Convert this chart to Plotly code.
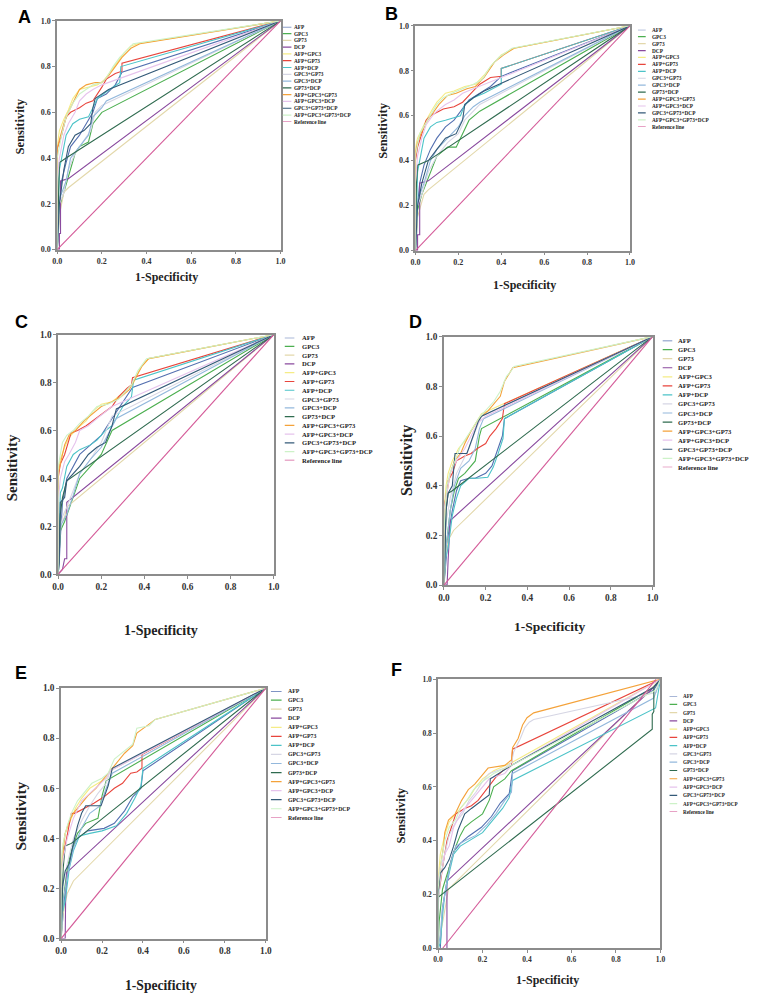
import plotly.graph_objects as go

# ---------------- data ----------------
NAMES = ["AFP", "GPC3", "GP73", "DCP", "AFP+GPC3", "AFP+GP73", "AFP+DCP",
         "GPC3+GP73", "GPC3+DCP", "GP73+DCP", "AFP+GPC3+GP73", "AFP+GPC3+DCP",
         "GPC3+GP73+DCP", "AFP+GPC3+GP73+DCP", "Reference line"]
COLORS = ["#5470b0", "#4caf50", "#e3d8ab", "#8a4a9e", "#f5ec86", "#e8453c", "#4cc3c8",
          "#d6d6e4", "#93b8dc", "#2f6b4f", "#f4a23a", "#e6c3ec", "#345a78", "#cdf2c8", "#d45a98"]
TICKS = [0.0, 0.2, 0.4, 0.6, 0.8, 1.0]
TICK_LABELS = ["0.0", "0.2", "0.4", "0.6", "0.8", "1.0"]
AXIS_TITLE_X = "1-Specificity"
AXIS_TITLE_Y = "Sensitivity"
REF = ([0, 1], [0, 1])

A = {
    "AFP": ([0, 0.005, 0.01, 0.02, 0.04, 0.06, 0.1, 0.13, 0.16, 0.18, 0.22, 0.26, 0.29, 1],
            [0, 0.05, 0.2, 0.3, 0.38, 0.45, 0.5, 0.55, 0.6, 0.66, 0.68, 0.72, 0.775, 1]),
    "GPC3": ([0, 0.005, 0.01, 0.03, 0.05, 0.08, 0.1, 0.14, 0.16, 0.2, 1],
             [0, 0.1, 0.18, 0.25, 0.32, 0.42, 0.45, 0.47, 0.55, 0.6, 1]),
    "GP73": ([0, 0.005, 0.01, 0.03, 0.05, 1], [0, 0.1, 0.15, 0.25, 0.27, 1]),
    "DCP": ([0, 0.01, 0.01, 0.015, 0.015, 0.05, 1], [0, 0, 0.07, 0.07, 0.3, 0.31, 1]),
    "AFP+GPC3": ([0, 0, 0.01, 0.03, 0.05, 0.07, 0.1, 0.14, 0.18, 0.21, 0.24, 0.27, 0.3, 0.33, 0.36, 1],
                 [0, 0.45, 0.52, 0.57, 0.61, 0.66, 0.7, 0.71, 0.72, 0.74, 0.78, 0.82, 0.86, 0.89, 0.9, 1]),
    "AFP+GP73": ([0, 0, 0.02, 0.04, 0.06, 0.1, 0.13, 0.16, 0.2, 0.22, 0.26, 0.29, 0.29, 1],
                 [0, 0.44, 0.5, 0.58, 0.6, 0.62, 0.64, 0.65, 0.71, 0.745, 0.77, 0.78, 0.815, 1]),
    "AFP+DCP": ([0, 0.005, 0.01, 0.02, 0.04, 0.07, 0.1, 0.14, 0.16, 0.18, 0.22, 0.25, 0.28, 0.285, 1],
                [0, 0.2, 0.35, 0.4, 0.5, 0.55, 0.57, 0.58, 0.62, 0.66, 0.69, 0.71, 0.73, 0.8, 1]),
    "GPC3+GP73": ([0, 0.005, 0.01, 0.03, 0.05, 0.08, 0.12, 0.15, 0.17, 0.2, 1],
                  [0, 0.1, 0.2, 0.25, 0.35, 0.42, 0.48, 0.52, 0.6, 0.63, 1]),
    "GPC3+DCP": ([0, 0.005, 0.01, 0.04, 0.06, 0.1, 0.14, 0.16, 0.2, 0.22, 1],
                 [0, 0.1, 0.22, 0.3, 0.4, 0.45, 0.5, 0.58, 0.62, 0.65, 1]),
    "GP73+DCP": ([0, 0.005, 0.01, 0.04, 1], [0, 0.25, 0.38, 0.4, 1]),
    "AFP+GPC3+GP73": ([0, 0, 0.01, 0.03, 0.05, 0.08, 0.1, 0.13, 0.17, 0.2, 0.23, 0.26, 0.29, 0.33, 0.37, 1],
                      [0, 0.44, 0.48, 0.55, 0.6, 0.66, 0.7, 0.72, 0.73, 0.73, 0.76, 0.8, 0.84, 0.88, 0.9, 1]),
    "AFP+GPC3+DCP": ([0, 0, 0.01, 0.03, 0.05, 0.08, 0.1, 0.13, 0.16, 0.2, 1],
                     [0, 0.3, 0.4, 0.5, 0.55, 0.6, 0.65, 0.68, 0.7, 0.72, 1]),
    "GPC3+GP73+DCP": ([0, 0.005, 0.01, 0.03, 0.05, 0.08, 0.12, 0.15, 0.16, 0.17, 0.2, 0.23, 1],
                      [0, 0.1, 0.2, 0.35, 0.45, 0.5, 0.52, 0.55, 0.62, 0.66, 0.68, 0.7, 1]),
    "AFP+GPC3+GP73+DCP": ([0, 0, 0.01, 0.02, 0.04, 0.07, 0.1, 0.13, 0.16, 0.2, 0.22, 0.25, 0.28, 0.31, 0.34, 1],
                          [0, 0.4, 0.45, 0.5, 0.58, 0.64, 0.68, 0.7, 0.72, 0.73, 0.75, 0.8, 0.84, 0.87, 0.9, 1]),
    "Reference line": REF,
}

B = {
    "AFP": ([0, 0.005, 0.01, 0.02, 0.04, 0.07, 0.1, 0.14, 0.18, 0.22, 0.25, 0.3, 0.35, 0.4, 1],
            [0, 0.05, 0.2, 0.3, 0.38, 0.45, 0.5, 0.55, 0.58, 0.63, 0.67, 0.7, 0.73, 0.775, 1]),
    "GPC3": ([0, 0.005, 0.01, 0.03, 0.06, 0.1, 0.15, 0.19, 0.22, 0.25, 0.3, 1],
             [0, 0.1, 0.18, 0.25, 0.32, 0.42, 0.46, 0.46, 0.52, 0.58, 0.62, 1]),
    "GP73": ([0, 0.005, 0.01, 0.04, 0.06, 1], [0, 0.1, 0.15, 0.25, 0.27, 1]),
    "DCP": ([0, 0.01, 0.01, 0.02, 0.02, 0.06, 1], [0, 0, 0.07, 0.07, 0.3, 0.31, 1]),
    "AFP+GPC3": ([0, 0, 0.01, 0.03, 0.05, 0.08, 0.1, 0.14, 0.18, 0.23, 0.28, 0.32, 0.36, 0.4, 0.46, 1],
                 [0, 0.46, 0.5, 0.54, 0.58, 0.63, 0.66, 0.7, 0.71, 0.73, 0.74, 0.78, 0.83, 0.87, 0.9, 1]),
    "AFP+GP73": ([0, 0, 0.01, 0.03, 0.05, 0.07, 0.1, 0.13, 0.18, 0.22, 0.26, 0.3, 0.35, 0.4, 0.4, 1],
                 [0, 0.4, 0.46, 0.52, 0.58, 0.6, 0.615, 0.63, 0.64, 0.66, 0.7, 0.74, 0.77, 0.775, 0.81, 1]),
    "AFP+DCP": ([0, 0.005, 0.01, 0.02, 0.04, 0.07, 0.1, 0.14, 0.18, 0.21, 0.23, 0.27, 0.32, 0.4, 0.4, 1],
                [0, 0.2, 0.35, 0.4, 0.5, 0.55, 0.57, 0.58, 0.59, 0.6, 0.65, 0.68, 0.7, 0.74, 0.81, 1]),
    "GPC3+GP73": ([0, 0.005, 0.01, 0.03, 0.06, 0.1, 0.15, 0.2, 0.23, 0.27, 0.3, 1],
                  [0, 0.1, 0.2, 0.25, 0.35, 0.42, 0.48, 0.52, 0.58, 0.62, 0.65, 1]),
    "GPC3+DCP": ([0, 0.005, 0.01, 0.04, 0.07, 0.1, 0.15, 0.2, 0.23, 0.27, 0.3, 1],
                 [0, 0.1, 0.22, 0.3, 0.4, 0.45, 0.5, 0.55, 0.6, 0.64, 0.66, 1]),
    "GP73+DCP": ([0, 0.005, 0.01, 0.06, 1], [0, 0.3, 0.38, 0.4, 1]),
    "AFP+GPC3+GP73": ([0, 0, 0.01, 0.03, 0.05, 0.08, 0.11, 0.15, 0.19, 0.24, 0.28, 0.32, 0.37, 0.41, 0.46, 1],
                      [0, 0.44, 0.48, 0.53, 0.57, 0.61, 0.65, 0.69, 0.7, 0.72, 0.73, 0.77, 0.84, 0.87, 0.9, 1]),
    "AFP+GPC3+DCP": ([0, 0, 0.01, 0.03, 0.05, 0.08, 0.1, 0.14, 0.18, 0.22, 0.27, 1],
                     [0, 0.3, 0.42, 0.5, 0.56, 0.6, 0.62, 0.65, 0.67, 0.7, 0.72, 1]),
    "GPC3+GP73+DCP": ([0, 0.005, 0.01, 0.03, 0.06, 0.1, 0.14, 0.19, 0.22, 0.23, 0.27, 0.32, 1],
                      [0, 0.1, 0.2, 0.3, 0.4, 0.45, 0.5, 0.52, 0.58, 0.65, 0.68, 0.71, 1]),
    "AFP+GPC3+GP73+DCP": ([0, 0, 0.01, 0.02, 0.05, 0.08, 0.1, 0.13, 0.17, 0.22, 0.27, 0.31, 0.35, 0.39, 0.45, 1],
                          [0, 0.42, 0.47, 0.52, 0.57, 0.62, 0.65, 0.68, 0.7, 0.72, 0.74, 0.76, 0.82, 0.86, 0.9, 1]),
    "Reference line": REF,
}

C = {
    "AFP": ([0, 0.005, 0.01, 0.02, 0.04, 0.07, 0.1, 0.15, 0.2, 0.25, 0.3, 0.345, 1],
            [0, 0.05, 0.15, 0.3, 0.4, 0.45, 0.5, 0.54, 0.58, 0.65, 0.72, 0.78, 1]),
    "GPC3": ([0, 0.005, 0.01, 0.03, 0.06, 0.1, 0.15, 0.2, 0.25, 1],
             [0, 0.1, 0.18, 0.22, 0.3, 0.4, 0.45, 0.5, 0.6, 1]),
    "GP73": ([0, 0, 0.01, 0.03, 0.04, 1], [0, 0.16, 0.2, 0.24, 0.28, 1]),
    "DCP": ([0, 0.02, 0.03, 0.04, 0.04, 1], [0, 0.02, 0.065, 0.065, 0.3, 1]),
    "AFP+GPC3": ([0, 0, 0.01, 0.03, 0.05, 0.09, 0.13, 0.16, 0.2, 0.25, 0.3, 0.33, 0.35, 0.38, 0.42, 1],
                 [0, 0.44, 0.48, 0.53, 0.57, 0.61, 0.64, 0.68, 0.71, 0.72, 0.757, 0.78, 0.8, 0.86, 0.9, 1]),
    "AFP+GP73": ([0, 0, 0.01, 0.03, 0.06, 0.09, 0.13, 0.16, 0.2, 0.25, 0.28, 0.32, 0.34, 0.345, 1],
                 [0, 0.4, 0.46, 0.5, 0.59, 0.6, 0.62, 0.64, 0.67, 0.7, 0.74, 0.777, 0.79, 0.82, 1]),
    "AFP+DCP": ([0, 0.005, 0.01, 0.02, 0.04, 0.07, 0.1, 0.15, 0.18, 0.22, 0.25, 0.3, 0.34, 0.35, 1],
                [0, 0.2, 0.34, 0.36, 0.45, 0.5, 0.52, 0.54, 0.56, 0.6, 0.62, 0.7, 0.74, 0.81, 1]),
    "GPC3+GP73": ([0, 0.005, 0.02, 0.04, 0.07, 0.1, 0.15, 0.2, 0.25, 1],
                  [0, 0.15, 0.24, 0.28, 0.35, 0.42, 0.48, 0.55, 0.66, 1]),
    "GPC3+DCP": ([0, 0.005, 0.01, 0.04, 0.07, 0.1, 0.15, 0.2, 0.24, 0.27, 1],
                 [0, 0.1, 0.2, 0.25, 0.33, 0.42, 0.48, 0.53, 0.6, 0.65, 1]),
    "GP73+DCP": ([0, 0.01, 0.02, 0.04, 1], [0, 0.25, 0.32, 0.39, 1]),
    "AFP+GPC3+GP73": ([0, 0, 0.01, 0.03, 0.05, 0.08, 0.12, 0.16, 0.2, 0.25, 0.29, 0.33, 0.36, 0.39, 0.42, 1],
                      [0, 0.42, 0.46, 0.54, 0.58, 0.6, 0.64, 0.67, 0.7, 0.72, 0.74, 0.77, 0.82, 0.87, 0.9, 1]),
    "AFP+GPC3+DCP": ([0, 0, 0.01, 0.03, 0.05, 0.08, 0.1, 0.14, 0.18, 0.22, 0.25, 1],
                     [0, 0.3, 0.4, 0.47, 0.5, 0.55, 0.6, 0.62, 0.65, 0.68, 0.7, 1]),
    "GPC3+GP73+DCP": ([0, 0.005, 0.01, 0.03, 0.04, 0.07, 0.1, 0.14, 0.18, 0.22, 0.25, 0.27, 1],
                      [0, 0.05, 0.3, 0.32, 0.39, 0.42, 0.45, 0.5, 0.53, 0.55, 0.62, 0.69, 1]),
    "AFP+GPC3+GP73+DCP": ([0, 0, 0.01, 0.02, 0.04, 0.07, 0.1, 0.14, 0.18, 0.23, 0.28, 0.31, 0.34, 0.37, 0.41, 1],
                          [0, 0.45, 0.5, 0.55, 0.58, 0.6, 0.63, 0.66, 0.7, 0.71, 0.73, 0.76, 0.79, 0.85, 0.9, 1]),
    "Reference line": REF,
}

D = {
    "AFP": ([0, 0.005, 0.02, 0.04, 0.06, 0.08, 0.12, 0.15, 0.2, 0.23, 0.26, 0.28, 0.29, 1],
            [0, 0.05, 0.2, 0.3, 0.38, 0.42, 0.43, 0.43, 0.45, 0.48, 0.55, 0.6, 0.67, 1]),
    "GPC3": ([0, 0.005, 0.01, 0.03, 0.05, 0.07, 0.1, 0.15, 0.17, 0.18, 1],
             [0, 0.1, 0.15, 0.3, 0.38, 0.43, 0.45, 0.5, 0.6, 0.63, 1]),
    "GP73": ([0, 0.005, 0.02, 0.046, 1], [0, 0.1, 0.18, 0.22, 1]),
    "DCP": ([0, 0.015, 0.02, 0.03, 1], [0, 0, 0.1, 0.26, 1]),
    "AFP+GPC3": ([0, 0, 0.01, 0.02, 0.04, 0.07, 0.1, 0.13, 0.16, 0.18, 1],
                 [0, 0.3, 0.4, 0.45, 0.5, 0.55, 0.58, 0.62, 0.66, 0.69, 1]),
    "AFP+GP73": ([0, 0, 0.02, 0.04, 0.06, 0.1, 0.13, 0.16, 0.2, 0.22, 0.25, 0.28, 0.29, 1],
                 [0, 0.3, 0.42, 0.45, 0.5, 0.52, 0.53, 0.55, 0.57, 0.6, 0.63, 0.67, 0.73, 1]),
    "AFP+DCP": ([0, 0.005, 0.02, 0.04, 0.06, 0.08, 0.12, 0.16, 0.21, 0.236, 0.26, 0.283, 0.29, 1],
                [0, 0.1, 0.15, 0.28, 0.35, 0.4, 0.43, 0.43, 0.434, 0.474, 0.53, 0.59, 0.67, 1]),
    "GPC3+GP73": ([0, 0.005, 0.01, 0.03, 0.06, 0.09, 0.12, 0.15, 0.18, 1],
                  [0, 0.15, 0.25, 0.35, 0.45, 0.5, 0.55, 0.62, 0.68, 1]),
    "GPC3+DCP": ([0, 0.005, 0.01, 0.03, 0.05, 0.08, 0.12, 0.15, 0.17, 0.19, 1],
                 [0, 0.1, 0.15, 0.3, 0.4, 0.47, 0.5, 0.55, 0.63, 0.67, 1]),
    "GP73+DCP": ([0, 0.01, 0.02, 0.04, 1], [0, 0.3, 0.37, 0.38, 1]),
    "AFP+GPC3+GP73": ([0, 0, 0.01, 0.03, 0.05, 0.08, 0.1, 0.13, 0.16, 0.18, 0.21, 0.24, 0.27, 0.29, 0.31, 0.33, 1],
                      [0, 0.25, 0.35, 0.45, 0.5, 0.53, 0.57, 0.62, 0.66, 0.68, 0.7, 0.73, 0.76, 0.82, 0.85, 0.875, 1]),
    "AFP+GPC3+DCP": ([0, 0, 0.01, 0.03, 0.06, 0.1, 0.13, 0.16, 0.2, 1],
                     [0, 0.3, 0.35, 0.45, 0.5, 0.55, 0.6, 0.65, 0.68, 1]),
    "GPC3+GP73+DCP": ([0, 0.005, 0.01, 0.02, 0.04, 0.053, 0.11, 0.14, 0.165, 0.18, 1],
                      [0, 0.15, 0.3, 0.37, 0.4, 0.53, 0.53, 0.6, 0.66, 0.68, 1]),
    "AFP+GPC3+GP73+DCP": ([0, 0, 0.006, 0.014, 0.03, 0.053, 0.077, 0.11, 0.14, 0.17, 0.21, 0.24, 0.27, 0.3, 0.32, 0.336, 1],
                          [0, 0.2, 0.32, 0.4, 0.455, 0.5, 0.555, 0.595, 0.635, 0.675, 0.714, 0.74, 0.78, 0.84, 0.86, 0.88, 1]),
    "Reference line": REF,
}

E = {
    "AFP": ([0, 0.005, 0.02, 0.04, 0.06, 0.08, 0.13, 0.21, 0.26, 0.31, 0.35, 0.39, 0.4, 1],
            [0, 0.05, 0.2, 0.3, 0.37, 0.4, 0.43, 0.44, 0.46, 0.51, 0.566, 0.6, 0.67, 1]),
    "GPC3": ([0, 0.005, 0.01, 0.03, 0.05, 0.08, 0.12, 0.18, 0.2, 0.22, 1],
             [0, 0.1, 0.15, 0.28, 0.35, 0.42, 0.46, 0.48, 0.57, 0.63, 1]),
    "GP73": ([0, 0.01, 0.03, 0.06, 1], [0, 0.1, 0.18, 0.23, 1]),
    "DCP": ([0, 0.02, 0.022, 0.027, 1], [0, 0, 0.15, 0.263, 1]),
    "AFP+GPC3": ([0, 0, 0.01, 0.02, 0.04, 0.07, 0.1, 0.14, 0.18, 0.22, 0.24, 1],
                 [0, 0.3, 0.38, 0.42, 0.46, 0.52, 0.56, 0.6, 0.62, 0.64, 0.67, 1]),
    "AFP+GP73": ([0, 0, 0.02, 0.04, 0.05, 0.067, 0.115, 0.16, 0.21, 0.26, 0.3, 0.34, 0.37, 0.395, 0.395, 1],
                 [0, 0.28, 0.37, 0.45, 0.5, 0.5, 0.52, 0.54, 0.566, 0.6, 0.62, 0.66, 0.665, 0.68, 0.735, 1]),
    "AFP+DCP": ([0, 0.005, 0.02, 0.04, 0.06, 0.09, 0.14, 0.2, 0.27, 0.32, 0.36, 0.39, 0.4, 1],
                [0, 0.1, 0.15, 0.28, 0.35, 0.41, 0.42, 0.43, 0.45, 0.5, 0.56, 0.61, 0.68, 1]),
    "GPC3+GP73": ([0, 0.005, 0.01, 0.03, 0.06, 0.1, 0.14, 0.18, 0.22, 0.24, 1],
                  [0, 0.15, 0.22, 0.3, 0.4, 0.47, 0.53, 0.58, 0.62, 0.67, 1]),
    "GPC3+DCP": ([0, 0.005, 0.01, 0.03, 0.06, 0.1, 0.14, 0.19, 0.22, 0.25, 1],
                 [0, 0.1, 0.15, 0.25, 0.36, 0.44, 0.5, 0.53, 0.6, 0.66, 1]),
    "GP73+DCP": ([0, 0.01, 0.02, 0.05, 1], [0, 0.28, 0.37, 0.38, 1]),
    "AFP+GPC3+GP73": ([0, 0, 0.01, 0.02, 0.04, 0.06, 0.09, 0.13, 0.17, 0.21, 0.24, 0.27, 0.31, 0.35, 0.37, 0.42, 0.46, 1],
                      [0, 0.25, 0.35, 0.42, 0.47, 0.5, 0.53, 0.57, 0.6, 0.64, 0.67, 0.7, 0.74, 0.77, 0.82, 0.85, 0.875, 1]),
    "AFP+GPC3+DCP": ([0, 0, 0.01, 0.03, 0.06, 0.1, 0.14, 0.18, 0.22, 0.24, 1],
                     [0, 0.25, 0.32, 0.4, 0.48, 0.55, 0.58, 0.61, 0.64, 0.67, 1]),
    "GPC3+GP73+DCP": ([0, 0.005, 0.02, 0.04, 0.06, 0.08, 0.1, 0.12, 0.195, 0.23, 0.25, 1],
                      [0, 0.2, 0.27, 0.3, 0.38, 0.45, 0.5, 0.53, 0.53, 0.61, 0.68, 1]),
    "AFP+GPC3+GP73+DCP": ([0, 0, 0.005, 0.015, 0.03, 0.05, 0.08, 0.12, 0.15, 0.2, 0.23, 0.26, 0.31, 0.35, 0.37, 0.43, 0.46, 1],
                          [0, 0.2, 0.35, 0.4, 0.45, 0.5, 0.55, 0.59, 0.62, 0.64, 0.66, 0.717, 0.75, 0.776, 0.84, 0.85, 0.875, 1]),
    "Reference line": REF,
}

F = {
    "AFP": ([0, 0.01, 0.02, 0.03, 0.05, 0.07, 0.1, 0.136, 0.195, 0.24, 0.28, 0.32, 0.335, 0.97, 1],
            [0, 0, 0.15, 0.2, 0.3, 0.36, 0.39, 0.416, 0.45, 0.49, 0.54, 0.575, 0.66, 0.96, 1]),
    "GPC3": ([0, 0.005, 0.02, 0.05, 0.08, 0.1, 0.12, 0.15, 0.2, 0.23, 0.25, 0.3, 0.33, 0.97, 1],
             [0, 0.1, 0.22, 0.3, 0.38, 0.42, 0.45, 0.47, 0.5, 0.55, 0.6, 0.63, 0.66, 0.97, 1]),
    "GP73": ([0, 0.02, 0.047, 1], [0, 0.1, 0.22, 1]),
    "DCP": ([0, 0.04, 0.04, 0.97, 1], [0, 0, 0.25, 0.97, 1]),
    "AFP+GPC3": ([0, 0, 0.01, 0.03, 0.05, 0.08, 0.11, 0.14, 0.17, 0.2, 0.25, 0.33, 1],
                 [0, 0.25, 0.35, 0.42, 0.47, 0.5, 0.53, 0.56, 0.6, 0.63, 0.66, 0.69, 1]),
    "AFP+GP73": ([0, 0, 0.02, 0.04, 0.06, 0.08, 0.12, 0.15, 0.18, 0.225, 0.26, 0.3, 0.33, 0.335, 1],
                 [0, 0.18, 0.3, 0.4, 0.45, 0.5, 0.52, 0.53, 0.55, 0.6, 0.636, 0.667, 0.68, 0.74, 1]),
    "AFP+DCP": ([0, 0.01, 0.02, 0.03, 0.05, 0.07, 0.1, 0.14, 0.2, 0.25, 0.29, 0.32, 0.335, 0.978, 1],
                [0, 0.02, 0.12, 0.2, 0.28, 0.35, 0.38, 0.4, 0.43, 0.48, 0.52, 0.56, 0.624, 0.893, 1]),
    "GPC3+GP73": ([0, 0, 0.01, 0.03, 0.05, 0.08, 0.11, 0.14, 0.17, 0.2, 0.23, 0.3, 0.33, 0.34, 0.37, 0.39, 0.41, 0.43, 0.98, 1],
                  [0, 0.15, 0.25, 0.35, 0.42, 0.47, 0.5, 0.55, 0.58, 0.62, 0.65, 0.67, 0.69, 0.73, 0.78, 0.82, 0.84, 0.85, 0.95, 1]),
    "GPC3+DCP": ([0, 0.01, 0.02, 0.04, 0.06, 0.08, 0.12, 0.17, 0.22, 0.26, 0.3, 0.33, 0.335, 0.97, 1],
                 [0, 0.05, 0.15, 0.25, 0.33, 0.38, 0.4, 0.42, 0.46, 0.5, 0.55, 0.58, 0.65, 0.93, 1]),
    "GP73+DCP": ([0, 0, 0.963, 0.963, 0.97, 0.97, 1], [0, 0.19, 0.814, 0.87, 0.88, 0.97, 1]),
    "AFP+GPC3+GP73": ([0, 0, 0.01, 0.025, 0.03, 0.047, 0.077, 0.106, 0.136, 0.165, 0.195, 0.225, 0.3, 0.33, 0.335, 0.36, 0.38, 0.4, 0.43, 1],
                      [0, 0.2, 0.3, 0.38, 0.43, 0.477, 0.5, 0.55, 0.59, 0.61, 0.64, 0.67, 0.68, 0.7, 0.746, 0.78, 0.83, 0.857, 0.875, 1]),
    "AFP+GPC3+DCP": ([0, 0, 0.01, 0.03, 0.05, 0.07, 0.1, 0.13, 0.17, 0.2, 0.23, 0.3, 0.33, 1],
                     [0, 0.25, 0.3, 0.35, 0.38, 0.45, 0.5, 0.53, 0.57, 0.6, 0.63, 0.65, 0.68, 1]),
    "GPC3+GP73+DCP": ([0, 0, 0.01, 0.03, 0.05, 0.07, 0.09, 0.12, 0.15, 0.2, 0.23, 0.235, 0.33, 0.97, 1],
                      [0, 0.2, 0.28, 0.3, 0.33, 0.38, 0.44, 0.5, 0.52, 0.55, 0.57, 0.63, 0.68, 0.97, 1]),
    "AFP+GPC3+GP73+DCP": ([0, 0, 0.01, 0.03, 0.05, 0.08, 0.1, 0.13, 0.16, 0.2, 0.25, 0.33, 0.98, 1],
                          [0, 0.22, 0.3, 0.4, 0.45, 0.48, 0.52, 0.55, 0.59, 0.62, 0.65, 0.68, 0.96, 1]),
    "Reference line": ([0.02, 0.98], [0, 1]),
}

# ---------------- layout constants (pixels) ----------------
W, H = 758, 1000
LEG_SPAN = 90  # width (px) of the hidden axis that carries each legend
PANELS = [
    dict(letter="A", data=A, plot=(52, 16, 279, 247), leg=(281, 290, 292, 22, 118), tick=8, lfont=5.3,
         sens=(14, 123, 12.5), spec=(163, 275, 12), lpos=(19, 12)),
    dict(letter="B", data=B, plot=(416, 21, 634, 248), leg=(642, 650, 655, 25, 123), tick=8, lfont=5.3,
         sens=(383, 127, 12.5), spec=(527, 283, 12), lpos=(392, 9)),
    dict(letter="C", data=C, plot=(53, 333, 272, 575), leg=(283, 293, 300, 336, 460), tick=9.3, lfont=6.6,
         sens=(6, 467, 15), spec=(158, 632, 14), lpos=(16, 320)),
    dict(letter="D", data=D, plot=(445, 335, 657, 586), leg=(667, 677, 682, 339, 467), tick=9.3, lfont=6.6,
         sens=(408, 460, 16), spec=(552, 628, 13.5), lpos=(416, 320)),
    dict(letter="E", data=E, plot=(56, 690, 264, 943), leg=(269, 280, 286, 693, 821), tick=9.3, lfont=5.8,
         sens=(15, 819, 15.5), spec=(157, 990, 13.6), lpos=(15, 675)),
    dict(letter="F", data=F, plot=(439, 681, 665, 953), leg=(674, 682, 687, 698, 815), tick=7.5, lfont=5.1,
         sens=(401, 819, 12.5), spec=(550, 985, 12), lpos=(397, 672)),
]

SERIF = "Liberation Serif"
SANS = "Liberation Sans"
AXIS_GRAY = "#8c8c8c"

fig = go.Figure()
layout = dict(width=W, height=H, margin=dict(l=0, r=0, t=0, b=0), showlegend=False,
              paper_bgcolor="white", plot_bgcolor="white")
annotations = []

for i, p in enumerate(PANELS, start=1):
    x0, y0, x1, y1 = p["plot"]
    ax_x = dict(domain=[x0 / W, x1 / W], range=[0, 1], anchor=f"y{i}", tickvals=TICKS, ticktext=TICK_LABELS,
                ticks="outside", ticklen=3, tickcolor=AXIS_GRAY, tickwidth=1, showline=True,
                linecolor=AXIS_GRAY, linewidth=1.5, mirror=True, showgrid=False, zeroline=False,
                tickfont=dict(family=SERIF, size=p["tick"], color="#333", weight="bold"), fixedrange=True)
    ax_y = dict(ax_x)
    ax_y.update(domain=[1 - y1 / H, 1 - y0 / H], anchor=f"x{i}")
    layout[f"xaxis{i}"] = ax_x
    layout[f"yaxis{i}"] = ax_y

    # curves
    for name, color in zip(NAMES, COLORS):
        xs, ys = p["data"][name]
        fig.add_trace(go.Scatter(x=xs, y=ys, mode="lines", xaxis=f"x{i}", yaxis=f"y{i}",
                                 line=dict(color=color, width=1.1), name=name, hoverinfo="skip"))

    # legend (drawn on a hidden axis pair whose x unit is one pixel)
    ls, le, tx, r0, r1 = p["leg"]
    k = i + 6
    n = len(NAMES)
    right = min(ls + LEG_SPAN, W)
    layout[f"xaxis{k}"] = dict(domain=[ls / W, right / W], range=[0, right - ls], visible=False,
                               fixedrange=True, anchor=f"y{k}")
    layout[f"yaxis{k}"] = dict(domain=[1 - r1 / H, 1 - r0 / H], range=[n - 1, 0], visible=False,
                               fixedrange=True, anchor=f"x{k}")
    for j, (name, color) in enumerate(zip(NAMES, COLORS)):
        fig.add_trace(go.Scatter(x=[0, le - ls], y=[j, j], mode="lines", xaxis=f"x{k}", yaxis=f"y{k}",
                                 line=dict(color=color, width=1.2), hoverinfo="skip", cliponaxis=False))
        annotations.append(dict(xref=f"x{k}", yref=f"y{k}", x=tx - ls, y=j, text=name, showarrow=False,
                                xanchor="left", yanchor="middle", borderpad=0,
                                font=dict(family=SERIF, size=p["lfont"], color="#222", weight="bold")))

    # axis titles and panel letter
    sx, sy, ss = p["sens"]
    annotations.append(dict(xref="paper", yref="paper", x=sx / W, y=1 - sy / H, text=AXIS_TITLE_Y,
                            textangle=-90, showarrow=False, xanchor="center", yanchor="middle",
                            font=dict(family=SERIF, size=ss, color="#222", weight="bold")))
    cx, cy, cs = p["spec"]
    annotations.append(dict(xref="paper", yref="paper", x=cx / W, y=1 - cy / H, text=AXIS_TITLE_X,
                            showarrow=False, xanchor="center", yanchor="middle",
                            font=dict(family=SERIF, size=cs, color="#222", weight="bold")))
    lx, ly = p["lpos"]
    annotations.append(dict(xref="paper", yref="paper", x=lx / W, y=1 - ly / H, text=p["letter"],
                            showarrow=False, xanchor="center", yanchor="middle",
                            font=dict(family=SANS, size=18, color="black", weight="bold")))

layout["annotations"] = annotations
fig.update_layout(**layout)
fig.write_html("out.html", config={"displayModeBar": False},
               post_script="document.body.style.margin='0';document.body.style.overflow='hidden';")
